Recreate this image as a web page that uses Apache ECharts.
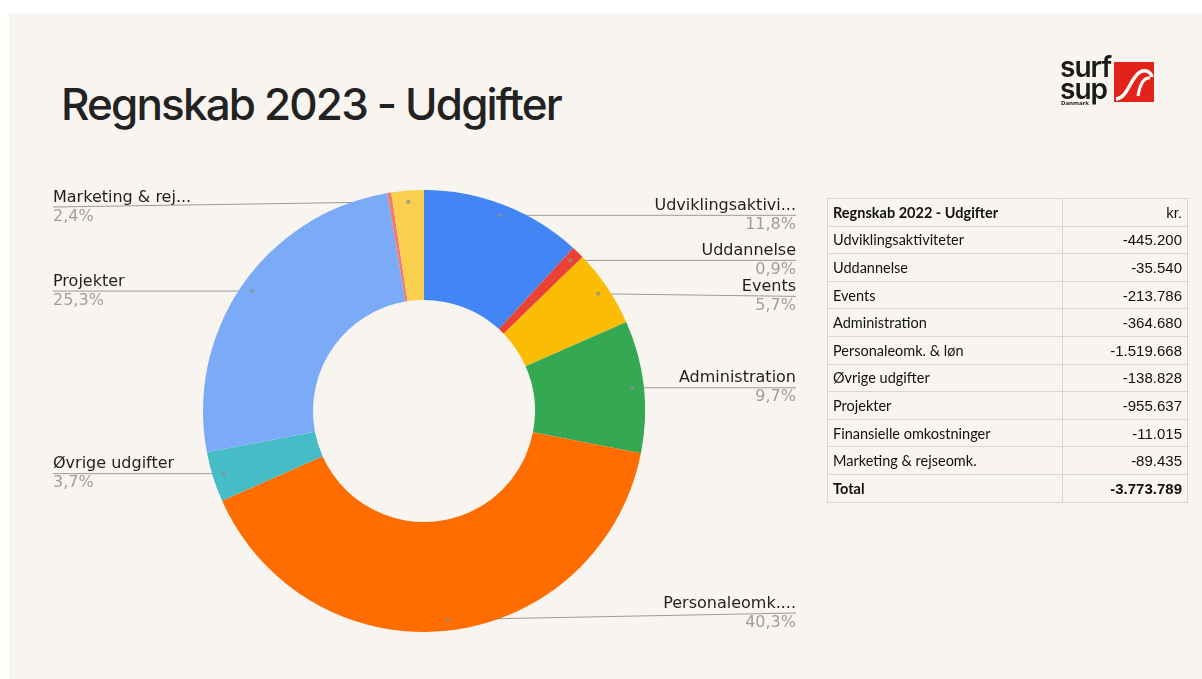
<!DOCTYPE html>
<html>
<head>
<meta charset="utf-8">
<script src="https://cdn.jsdelivr.net/npm/echarts@6/dist/echarts.min.js"></script>
<style>
  html, body { margin: 0; padding: 0; background: #ffffff; }
  #slide {
    position: absolute; left: 9px; top: 13px; width: 1193px; height: 666px;
    background: #f8f4f0; overflow: hidden;
  }
  #main { position: absolute; left: 0; top: 0; width: 1202px; height: 679px; }
  #title {
    position: absolute; left: 61px; top: 82px; font-family: Inter, sans-serif;
    font-size: 44px; line-height: 44px; font-weight: 500; color: #222;
    letter-spacing: -1.85px; white-space: nowrap;
  }
  #tbl {
    position: absolute; left: 827px; top: 198px; width: 361px;
    border-collapse: collapse; font-family: Lato, "Open Sans", sans-serif;
    font-size: 14.5px; color: #111;
  }
  #tbl td { border: 1px solid #d8d6d3; height: 26.6px; padding: 0 5px; }
  #tbl td.v { text-align: right; font-family: "Liberation Sans", Arial, sans-serif; font-size: 15px; width: 114px; }
  #tbl tr.b td { font-weight: bold; }
  #logo { position: absolute; left: 1060px; top: 52px; width: 100px; height: 56px; }
  #logo .t { position: absolute; left: 0; font-family: Inter, sans-serif; font-weight: 600;
    font-size: 28px; line-height: 22px; color: #1a1a1a; letter-spacing: -1px; }
  #logo .d { position: absolute; left: 1px; top: 47px; font-family: "Open Sans", sans-serif;
    font-size: 6px; font-weight: 700; color: #1a1a1a; }
</style>
</head>
<body>
<div id="slide"></div>
<div id="title">Regnskab 2023 - Udgifter</div>
<div id="main"></div>
<table id="tbl"></table>
<div id="logo">
  <div class="t" style="top:4px">surf</div>
  <div class="t" style="top:26px">sup</div>
  <div class="d">Danmark</div>
  <svg style="position:absolute;left:54px;top:10px" width="40" height="40" viewBox="0 0 40 40">
    <rect x="0" y="0" width="40" height="40" fill="#e2231a"/>
    <path d="M2 37 C14 36 16 16 26 10 C32 7 37 10 38 15" stroke="#fff" stroke-width="3.5" fill="none"/>
    <path d="M24 34 C26 22 30 15 36 16" stroke="#fff" stroke-width="3" fill="none"/>
  </svg>
</div>
<script>
// kategorier og værdier (kr., udgifter)
var categories = ['Udviklingsaktiviteter', 'Uddannelse', 'Events', 'Administration',
  'Personaleomk. & løn', 'Øvrige udgifter', 'Projekter', 'Finansielle omkostninger',
  'Marketing & rejseomk.'];
var shortNames = ['Udviklingsaktivi...', 'Uddannelse', 'Events', 'Administration',
  'Personaleomk....', 'Øvrige udgifter', 'Projekter', '', 'Marketing & rej...'];
var values = [445200, 35540, 213786, 364680, 1519668, 138828, 955637, 11015, 89435];
var colors = ['#4285F4', '#EA4335', '#FBBC04', '#34A853', '#FF6D01', '#46BDC6',
  '#7BAAF7', '#F07B72', '#FCD04F'];
var tableTitle = 'Regnskab 2022 - Udgifter';

var total = values.reduce(function (a, b) { return a + b; }, 0);

// talformat med punktum som tusindtalsseparator
function fmt(n) {
  return '-' + String(n).replace(/\B(?=(\d{3})+(?!\d))/g, '.');
}
function pct(v) {
  return (v / total * 100).toFixed(1).replace('.', ',') + '%';
}

// tabel
var tbl = document.getElementById('tbl');
var html = '<tr class="b"><td>' + tableTitle + '</td><td class="v" style="font-weight:normal">kr.</td></tr>';
categories.forEach(function (c, i) {
  html += '<tr><td>' + c + '</td><td class="v">' + fmt(values[i]) + '</td></tr>';
});
html += '<tr class="b"><td>Total</td><td class="v">' + fmt(total) + '</td></tr>';
tbl.innerHTML = html;

// layout
var CX = 424, CY = 411, R0 = 111, R = 221, DOT = 0.95;
var LEFT_X = 53, RIGHT_X = 796, GAP = 36, MIN_Y = 207, MAX_Y = 613;

// midtvinkler
var mids = [];
var cum = 0;
values.forEach(function (v) { mids.push(cum + v / 2); cum += v; });

function dotPoint(i) {
  var a = mids[i] / total * Math.PI * 2;
  return [CX + R * DOT * Math.sin(a), CY - R * DOT * Math.cos(a)];
}

// label y med simpel overlap-håndtering
var labelY = [];
(function () {
  var sides = { l: [], r: [] };
  values.forEach(function (v, i) {
    if (!shortNames[i]) return;
    var p = dotPoint(i);
    sides[p[0] > CX ? 'r' : 'l'].push({ i: i, y: Math.min(MAX_Y, Math.max(MIN_Y, p[1])) });
  });
  ['l', 'r'].forEach(function (s) {
    var arr = sides[s].sort(function (a, b) { return a.y - b.y; });
    var last = -1e9;
    arr.forEach(function (o) {
      var y = Math.max(o.y, last + GAP);
      labelY[o.i] = y;
      last = y;
    });
  });
})();

var chart = echarts.init(document.getElementById('main'));

var pieData = values.map(function (v, i) {
  var item = { name: categories[i], value: v, itemStyle: { color: colors[i] } };
  if (!shortNames[i]) {
    item.label = { show: false };
    item.labelLine = { show: false };
  }
  return item;
});

var dotData = [];
values.forEach(function (v, i) {
  if (shortNames[i]) dotData.push([DOT, mids[i]]);
});

var option = {
  backgroundColor: 'transparent',
  animation: false,
  polar: { center: [CX, CY], radius: R },
  angleAxis: { type: 'value', min: 0, max: total, startAngle: 90, show: false },
  radiusAxis: { type: 'value', min: 0, max: 1, show: false },
  series: [
    {
      type: 'pie',
      center: [CX, CY],
      radius: [R0, R],
      startAngle: 90,
      data: pieData,
      label: {
        show: true,
        position: 'outer',
        formatter: function (p) {
          var right = dotPoint(p.dataIndex)[0] > CX;
          return '{' + (right ? 'nr' : 'nl') + '|' + shortNames[p.dataIndex] + '}\n{' +
            (right ? 'pr' : 'pl') + '|' + pct(p.value) + '}';
        },
        rich: {
          nl: { fontFamily: 'DejaVu Sans', fontSize: 16, color: '#1f1f1f', align: 'left', lineHeight: 19 },
          nr: { fontFamily: 'DejaVu Sans', fontSize: 16, color: '#1f1f1f', align: 'right', lineHeight: 19 },
          pl: { fontFamily: 'DejaVu Sans', fontSize: 16, color: '#9e9e9e', align: 'left', lineHeight: 19 },
          pr: { fontFamily: 'DejaVu Sans', fontSize: 16, color: '#9e9e9e', align: 'right', lineHeight: 19 }
        }
      },
      labelLine: { show: true, lineStyle: { color: '#9a9a9a', width: 1 } },
      labelLayout: function (params) {
        var i = params.dataIndex;
        var d = dotPoint(i);
        var right = d[0] > CX;
        var ex = right ? RIGHT_X : LEFT_X;
        return {
          x: ex,
          y: labelY[i],
          align: right ? 'right' : 'left',
          verticalAlign: 'middle',
          labelLinePoints: [[d[0], d[1]], [ex, labelY[i]]]
        };
      },
      emphasis: { disabled: true },
      z: 2
    },
    {
      type: 'scatter',
      coordinateSystem: 'polar',
      data: dotData,
      symbolSize: 4,
      itemStyle: { color: '#8f8f8f' },
      silent: true,
      z: 5
    }
  ]
};

chart.setOption(option);
</script>
</body>
</html>
